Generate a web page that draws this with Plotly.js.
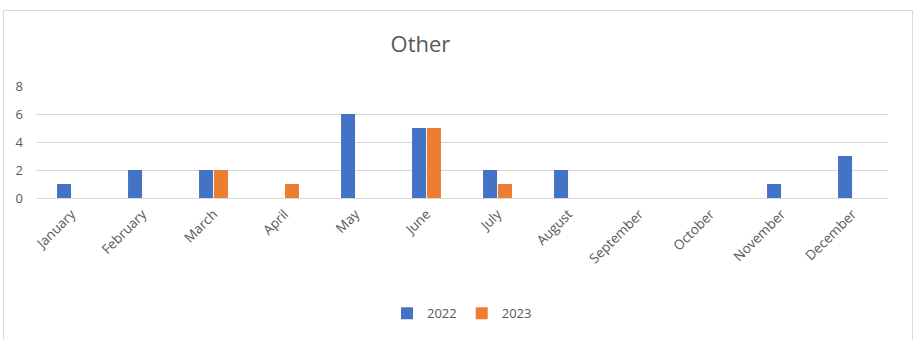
<!DOCTYPE html>
<html>
<head>
<meta charset="utf-8">
<script src="https://cdn.plot.ly/plotly-3.0.1.min.js"></script>
<style>
  html, body { margin: 0; padding: 0; background: #fff; }
  #wrap { position: relative; width: 924px; height: 340px; }
  #chart { width: 924px; height: 340px; }
  #frame { position: absolute; left: 3px; top: 10px; width: 910px; height: 340px;
           border: 1px solid #d9d9d9; pointer-events: none; box-sizing: border-box; }
</style>
</head>
<body>
<div id="wrap">
  <div id="chart"></div>
  <div id="frame"></div>
</div>
<script>
const months = ["January","February","March","April","May","June","July","August","September","October","November","December"];
const values2022 = [1, 2, 2, 0, 6, 5, 2, 2, 0, 0, 1, 3];
const values2023 = [0, 0, 2, 1, 0, 5, 1, 0, 0, 0, 0, 0];
const seriesNames = ["2022", "2023"];
const yTicks = [0, 2, 4, 6, 8];

const font = "Open Sans, Liberation Sans, sans-serif";
const data = [
  { type: "bar", name: seriesNames[0], x: months, y: values2022, marker: { color: "#4472C4" } },
  { type: "bar", name: seriesNames[1], x: months, y: values2023, marker: { color: "#ED7D31" } }
];

const layout = {
  width: 924, height: 340,
  margin: { l: 36, r: 36, t: 86, b: 140 },
  paper_bgcolor: "#ffffff", plot_bgcolor: "#ffffff",
  font: { family: font, color: "#595959", size: 13 },
  title: { text: "Other", font: { family: font, size: 22, color: "#595959" },
           x: 0.455, xref: "container", xanchor: "center", y: 0.87, yref: "container", yanchor: "middle" },
  barmode: "group", bargap: 0.58, bargroupgap: 0.06,
  showlegend: true,
  legend: { orientation: "h", x: 0.5, xanchor: "center", y: -1.03, yanchor: "middle",
            font: { family: font, size: 13, color: "#595959" }, itemwidth: 30, traceorder: "normal" },
  xaxis: { type: "category", tickangle: -45, showgrid: false, showline: true, linecolor: "#d9d9d9",
           ticks: "", ticklabelstandoff: 2, tickfont: { family: font, size: 13.5, color: "#595959" }, fixedrange: true },
  yaxis: { range: [0, 8], tickvals: yTicks, showgrid: true, gridcolor: "#d9d9d9", zeroline: false,
           showline: false, ticks: "", ticklabelstandoff: 12,
           tickfont: { family: font, size: 13, color: "#595959" }, fixedrange: true }
};

Plotly.newPlot("chart", data, layout, { displayModeBar: false, staticPlot: true });
</script>
</body>
</html>
